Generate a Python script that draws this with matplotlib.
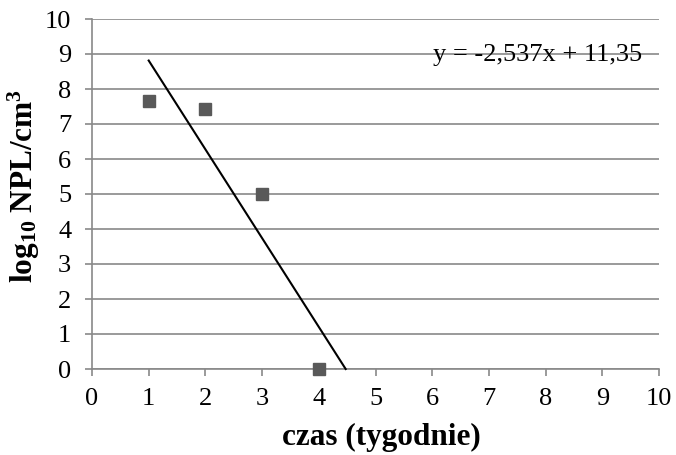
import matplotlib
matplotlib.use('Agg')
import matplotlib.pyplot as plt
import numpy as np

# data
weeks = [1, 2, 3, 4]
log_npl = [7.67, 7.42, 5.0, 0.0]
slope, intercept = -2.537, 11.35
eq_label = 'y = -2,537x + 11,35'

plt.rcParams['font.family'] = ['Liberation Serif', 'DejaVu Serif']
plt.rcParams['mathtext.fontset'] = 'custom'
plt.rcParams['mathtext.rm'] = 'Liberation Serif'
plt.rcParams['mathtext.bf'] = 'Liberation Serif:bold'
plt.rcParams['mathtext.default'] = 'bf'

grid_col = '#898989'

fig = plt.figure(figsize=(6.76, 4.55), dpi=100)
ax = fig.add_axes([92/676, 1 - 369/455, (659-92)/676, (369-19)/455])

# trendline from first x to where it meets zero
x_end = -intercept / slope
xf = np.array([weeks[0], x_end])
ax.plot(xf, slope*xf + intercept, color='black', lw=1.5, zorder=3, clip_on=False)
ax.plot(weeks, log_npl, 's', color='#595959', ms=9, zorder=4, clip_on=False)

ax.set_xlim(0, 10)
ax.set_ylim(0, 10)
ax.set_xticks(range(0, 11))
ax.set_yticks(range(0, 11))
ax.yaxis.grid(True, color=grid_col, lw=1.2)
ax.set_axisbelow(True)
for s in ['top', 'right']:
    ax.spines[s].set_visible(False)
for s in ['left', 'bottom']:
    ax.spines[s].set_color(grid_col)
    ax.spines[s].set_linewidth(1.2)
ax.tick_params(axis='both', direction='out', length=5, width=1.2, color=grid_col,
               labelsize=19)
ax.tick_params(axis='x', pad=9)
ax.tick_params(axis='y', pad=10)

ax.text(6.01, 8.97, eq_label, fontsize=19, va='center', ha='left')

ax.set_xlabel('czas (tygodnie)', fontsize=22.5, fontweight='bold', va='center')
ax.xaxis.set_label_coords(0.51, (369-437)/350)
ax.set_ylabel(r'log$_{10}$ NPL/cm$^{3}$', fontsize=22.5, fontweight='bold',
              va='center', ha='center')
ax.yaxis.set_label_coords((24-92)/567, (369-186)/350)

fig.savefig('out.png', dpi=100)
